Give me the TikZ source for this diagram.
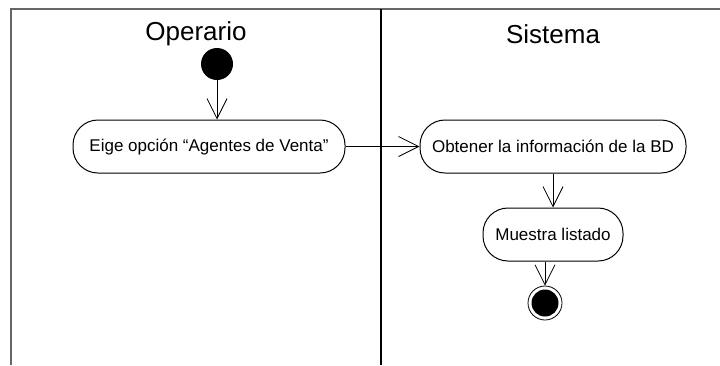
\documentclass[tikz,border=0pt]{standalone}
\usepackage{fontspec}
\setmainfont{Liberation Sans}
\usetikzlibrary{arrows.meta}
\begin{document}
\begin{tikzpicture}[x=1pt,y=-1pt,
  lane/.style={line width=1.2pt,draw=black!60},
  act/.style={draw,line width=1pt,rounded corners=25pt,minimum height=53pt,inner xsep=8pt,font=\fontsize{17}{20}\selectfont},
  flow/.style={line width=0.8pt,-{Straight Barb[length=20pt,width=20pt,line width=0.8pt]}},
  title/.style={font=\fontsize{26}{30}\selectfont}]
\useasboundingbox (0,0) rectangle (720,365);
\fill[white] (0,0) rectangle (720,365);
\draw[lane] (720,9) -- (11,9) -- (11,365);
\draw[line width=1.6pt] (381,9) -- (381,365);
\node[title] (t1) at (196,34) {Operario};
\node[title] (t2) at (553,34) {Sistema};
\node[circle,fill=black,minimum size=32pt,inner sep=0pt] (start) at (217,64) {};
\node[act,minimum width=272pt] (a1) at (209,146.5) {Eige opción “Agentes de Venta”};
\node[act,minimum width=266pt] (a2) at (553,146.5) {Obtener la información de la BD};
\node[act,minimum width=140pt] (a3) at (553,234.5) {Muestra listado};
\node[circle,draw,line width=0.8pt,minimum size=34pt,inner sep=0pt] (end) at (545,303) {};
\node[circle,fill=black,minimum size=27pt,inner sep=0pt] (endin) at (545,303) {};
\draw[flow] (start) -- (a1.north -| start);
\draw[flow] (a1) -- (a2);
\draw[flow] (a2) -- (a3);
\draw[flow] (a3.south -| end) -- (end);
\end{tikzpicture}
\end{document}
